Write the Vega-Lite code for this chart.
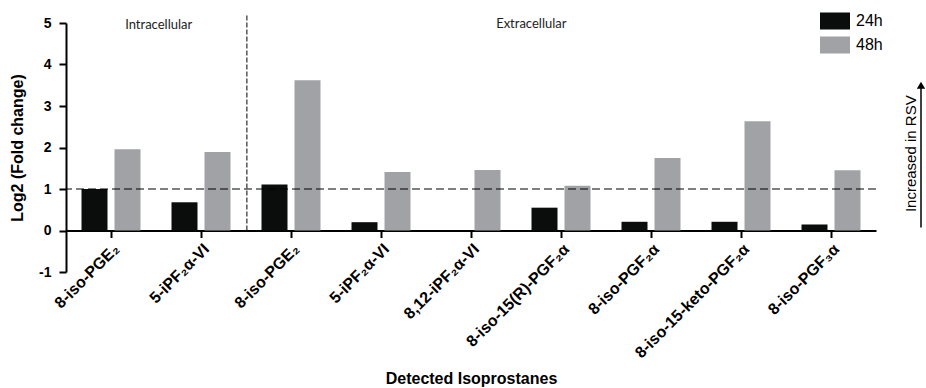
{
  "$schema": "https://vega.github.io/schema/vega-lite/v6.json",
  "width": 810,
  "height": 249,
  "autosize": {"type": "none"},
  "padding": {"left": 66, "top": 23, "right": 50, "bottom": 116},
  "background": "white",
  "config": {"view": {"stroke": null}, "font": "Liberation Sans"},
  "layer": [
    {
      "data": {
        "values": [
          {"id": "Intracellular|8-iso-PGE₂", "time": "24h", "value": 1.0},
          {"id": "Intracellular|8-iso-PGE₂", "time": "48h", "value": 1.96},
          {"id": "Intracellular|5-iPF₂α-VI", "time": "24h", "value": 0.68},
          {"id": "Intracellular|5-iPF₂α-VI", "time": "48h", "value": 1.89},
          {"id": "Extracellular|8-iso-PGE₂", "time": "24h", "value": 1.11},
          {"id": "Extracellular|8-iso-PGE₂", "time": "48h", "value": 3.62},
          {"id": "Extracellular|5-iPF₂α-VI", "time": "24h", "value": 0.2},
          {"id": "Extracellular|5-iPF₂α-VI", "time": "48h", "value": 1.41},
          {"id": "Extracellular|8,12-iPF₂α-VI", "time": "24h", "value": 0},
          {"id": "Extracellular|8,12-iPF₂α-VI", "time": "48h", "value": 1.46},
          {"id": "Extracellular|8-iso-15(R)-PGF₂α", "time": "24h", "value": 0.55},
          {"id": "Extracellular|8-iso-15(R)-PGF₂α", "time": "48h", "value": 1.08},
          {"id": "Extracellular|8-iso-PGF₂α", "time": "24h", "value": 0.21},
          {"id": "Extracellular|8-iso-PGF₂α", "time": "48h", "value": 1.75},
          {"id": "Extracellular|8-iso-15-keto-PGF₂α", "time": "24h", "value": 0.21},
          {"id": "Extracellular|8-iso-15-keto-PGF₂α", "time": "48h", "value": 2.63},
          {"id": "Extracellular|8-iso-PGF₃α", "time": "24h", "value": 0.145},
          {"id": "Extracellular|8-iso-PGF₃α", "time": "48h", "value": 1.45}
        ]
      },
      "mark": {"type": "bar"},
      "encoding": {
        "x": {
          "field": "id",
          "type": "nominal",
          "sort": null,
          "scale": {"paddingInner": 0, "paddingOuter": 0},
          "axis": {
            "title": "Detected Isoprostanes",
            "labelExpr": "split(datum.value, '|')[1]",
            "labelAngle": -45,
            "labelFontWeight": "bold",
            "labelFontSize": 16,
            "labelColor": "black",
            "labelPadding": 3,
            "domainColor": "black",
            "domainWidth": 2,
            "tickColor": "black",
            "tickWidth": 2,
            "tickSize": 7,
            "offset": -41.5,
            "titleFontSize": 16,
            "titleFontWeight": "bold",
            "titleColor": "black",
            "titleY": 140
          }
        },
        "xOffset": {
          "field": "time",
          "type": "nominal",
          "scale": {"paddingInner": 0.212, "paddingOuter": 0.47}
        },
        "y": {
          "field": "value",
          "type": "quantitative",
          "scale": {"domain": [-1, 5], "nice": false, "zero": false},
          "axis": {
            "title": "Log2 (Fold change)",
            "values": [-1, 0, 1, 2, 3, 4, 5],
            "labelExpr": "datum.value < 0 ? '-' + abs(datum.value) : datum.label",
            "grid": false,
            "labelFontWeight": "bold",
            "labelFontSize": 14,
            "labelColor": "black",
            "labelPadding": 8,
            "domainColor": "black",
            "domainWidth": 2,
            "tickColor": "black",
            "tickWidth": 2,
            "tickSize": 7,
            "titleFontSize": 16,
            "titleFontWeight": "bold",
            "titleColor": "black",
            "titleX": -48.5,
            "titleBaseline": "middle"
          }
        },
        "color": {
          "field": "time",
          "type": "nominal",
          "scale": {"domain": ["24h", "48h"], "range": ["#0b0c0c", "#a1a2a6"]},
          "legend": {
            "title": null,
            "orient": "none",
            "legendX": 754,
            "legendY": -17,
            "symbolType": "M-1,-0.567H1V0.567H-1Z",
            "symbolSize": 900,
            "symbolStrokeWidth": 0,
            "labelFontSize": 16,
            "labelColor": "black",
            "labelOffset": 6,
            "rowPadding": 0,
            "padding": 0
          }
        }
      }
    },
    {
      "data": {"values": [{}]},
      "mark": {"type": "rule", "strokeDash": [8, 4], "color": "black", "strokeWidth": 1},
      "encoding": {"y": {"datum": 1, "type": "quantitative", "scale": {"domain": [-1, 5], "nice": false, "zero": false}}}
    },
    {
      "data": {"values": [{}]},
      "layer": [
        {
          "mark": {"type": "rule", "strokeDash": [5, 2], "color": "black", "strokeWidth": 1, "clip": false},
          "encoding": {
            "x": {"datum": 2.01, "type": "quantitative", "scale": {"domain": [0, 9], "nice": false, "zero": false}, "axis": null},
            "y": {"datum": 0, "type": "quantitative", "scale": {"domain": [-1, 5], "nice": false, "zero": false}},
            "y2": {"datum": 5.19}
          }
        },
        {
          "mark": {"type": "text", "font": "Lato", "fontSize": 13, "color": "#222", "baseline": "middle", "align": "center"},
          "encoding": {
            "x": {"datum": 1.03, "type": "quantitative", "scale": {"domain": [0, 9], "nice": false, "zero": false}, "axis": null},
            "y": {"datum": 4.95, "type": "quantitative", "scale": {"domain": [-1, 5], "nice": false, "zero": false}},
            "text": {"value": "Intracellular"}
          }
        },
        {
          "mark": {"type": "text", "font": "Lato", "fontSize": 13, "color": "#222", "baseline": "middle", "align": "center"},
          "encoding": {
            "x": {"datum": 5.17, "type": "quantitative", "scale": {"domain": [0, 9], "nice": false, "zero": false}, "axis": null},
            "y": {"datum": 4.97, "type": "quantitative", "scale": {"domain": [-1, 5], "nice": false, "zero": false}},
            "text": {"value": "Extracellular"}
          }
        },
        {
          "mark": {"type": "rule", "color": "black", "strokeWidth": 1.5, "clip": false},
          "encoding": {
            "x": {"datum": 9.5, "type": "quantitative", "scale": {"domain": [0, 9], "nice": false, "zero": false}, "axis": null},
            "y": {"datum": 0.07, "type": "quantitative", "scale": {"domain": [-1, 5], "nice": false, "zero": false}},
            "y2": {"datum": 3.5}
          }
        },
        {
          "mark": {"type": "point", "shape": "triangle-up", "filled": true, "color": "black", "size": 70, "opacity": 1, "clip": false},
          "encoding": {
            "x": {"datum": 9.5, "type": "quantitative", "scale": {"domain": [0, 9], "nice": false, "zero": false}, "axis": null},
            "y": {"datum": 3.5, "type": "quantitative", "scale": {"domain": [-1, 5], "nice": false, "zero": false}}
          }
        },
        {
          "mark": {"type": "text", "fontSize": 15, "color": "black", "angle": 270, "baseline": "middle", "align": "center"},
          "encoding": {
            "x": {"datum": 9.39, "type": "quantitative", "scale": {"domain": [0, 9], "nice": false, "zero": false}, "axis": null},
            "y": {"datum": 1.85, "type": "quantitative", "scale": {"domain": [-1, 5], "nice": false, "zero": false}},
            "text": {"value": "Increased in RSV"}
          }
        }
      ]
    }
  ],
  "resolve": {"scale": {"x": "independent"}}
}
